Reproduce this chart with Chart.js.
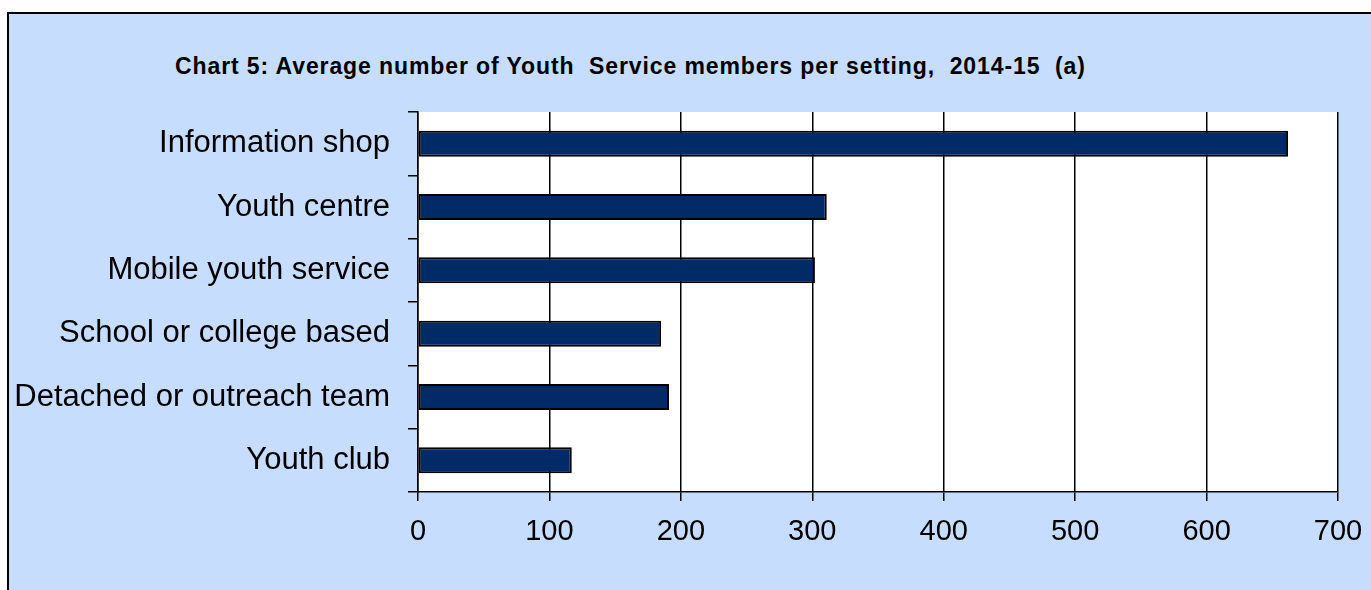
<!DOCTYPE html>
<html>
<head>
<meta charset="utf-8">
<script src="https://cdn.jsdelivr.net/npm/chart.js@4"></script>
<style>
  html, body { margin: 0; padding: 0; background: #fff; }
  #wrap { position: relative; width: 1371px; height: 590px; overflow: hidden; }
  #frame { position: absolute; left: 7px; top: 12px; width: 1400px; height: 600px;
           background: #C6DDFD; border-top: 2px solid #000; border-left: 2px solid #000; }
  #title { position: absolute; left: 175px; top: 55px; font: bold 23px "Liberation Sans", Arial, sans-serif;
           line-height: 1; letter-spacing: 0.9px; color: #000; white-space: pre; }
  #chart { position: absolute; left: 0; top: 0; }
</style>
</head>
<body>
<div id="wrap">
  <div id="frame"></div>
  <div id="title">Chart 5: Average number of Youth  Service members per setting,  2014-15  (a)</div>
  <canvas id="chart" width="1371" height="590"></canvas>
</div>
<script>
var settings = ["Information shop", "Youth centre", "Mobile youth service",
                "School or college based", "Detached or outreach team", "Youth club"];
var members = [662, 311, 302, 185, 191, 117];
var xTicks = [0, 100, 200, 300, 400, 500, 600, 700];

var plotBackground = {
    id: "plotBackground",
    beforeDraw: function (chart) {
        var a = chart.chartArea, ctx = chart.ctx;
        ctx.save();
        ctx.fillStyle = "#ffffff";
        ctx.fillRect(a.left, a.top, a.right - a.left, a.bottom - a.top);
        ctx.restore();
    }
};

new Chart(document.getElementById("chart"), {
    type: "bar",
    data: {
        labels: settings,
        datasets: [{
            data: members,
            backgroundColor: "#002B66",
            borderColor: "#000000",
            borderWidth: 2,
            borderSkipped: false,
            categoryPercentage: 1,
            barPercentage: 0.41
        }]
    },
    options: {
        indexAxis: "y",
        responsive: false,
        animation: false,
        layout: { padding: { top: 112, right: 33, left: 0, bottom: 0 } },
        plugins: { legend: { display: false }, tooltip: { enabled: false }, title: { display: false } },
        scales: {
            x: {
                min: xTicks[0],
                max: xTicks[xTicks.length - 1],
                afterBuildTicks: function (s) { s.ticks = xTicks.map(function (v) { return { value: v }; }); },
                afterFit: function (s) { s.height = 98; s.paddingLeft = 0; s.paddingRight = 0; },
                grid: { color: "#000", lineWidth: 1.5, tickLength: 9, drawOnChartArea: true },
                border: { color: "#000", width: 1.5 },
                ticks: { color: "#000", padding: 14, font: { family: "Liberation Sans", size: 29 } }
            },
            y: {
                afterFit: function (s) { s.width = 418; s.paddingTop = 0; s.paddingBottom = 0; },
                grid: { color: "#000", lineWidth: 1.5, tickLength: 10, drawOnChartArea: false, offset: true },
                border: { color: "#000", width: 1.5 },
                ticks: { color: "#000", padding: 18, font: { family: "Liberation Sans", size: 31 } }
            }
        }
    },
    plugins: [plotBackground]
});
</script>
</body>
</html>
